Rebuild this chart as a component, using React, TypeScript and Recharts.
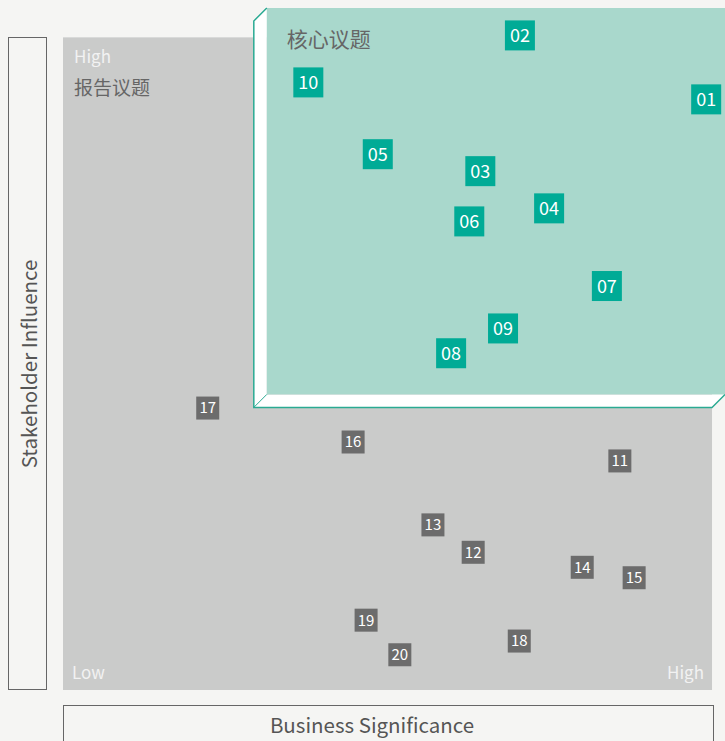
import { ScatterChart, Scatter, XAxis, YAxis, ReferenceArea } from 'recharts'

const FONT = '"Noto Sans CJK SC", "Noto Sans", sans-serif'
const PAGE_BG = '#f5f5f3'
const TEAL = '#00ab96'
const TEAL_LINE = '#2aaa92'
const TEAL_BG = '#a9d8cc'
const GRAY_BG = '#cacbca'
const GRAY_POINT = '#6c6c6c'

// issue numbers and their position on the matrix (0..10 on both scales)
const issueIds = ['01', '02', '03', '04', '05', '06', '07', '08', '09', '10',
  '11', '12', '13', '14', '15', '16', '17', '18', '19', '20']
const significance = [9.91, 7.04, 6.43, 7.49, 4.85, 6.26, 8.38, 5.98, 6.78, 3.78,
  8.58, 6.32, 5.7, 8.0, 8.8, 4.47, 2.23, 7.03, 4.67, 5.19]
const influence = [9.05, 10.03, 7.95, 7.38, 8.21, 7.18, 6.19, 5.16, 5.54, 9.31,
  3.51, 2.11, 2.53, 1.88, 1.72, 3.8, 4.32, 0.75, 1.07, 0.54]

const X_MAX = 10.2
const Y_MAX = 10.45

const points = issueIds.map((id, i) => ({ id, x: significance[i], y: influence[i] }))
const coreIssues = points.slice(0, 10)
const reportIssues = points.slice(10)

const GrayArea = (props: any) => {
  const { x, y, width, height } = props
  return (
    <g>
      <rect x={x} y={y} width={width} height={height} fill={GRAY_BG} />
      <text x={x + 11} y={y + 26} fill="#f2f2f2" fontSize={17} fontFamily={FONT}>High</text>
      <text x={x + 11} y={y + 58} fill="#666" fontSize={19} fontFamily={FONT}>报告议题</text>
      <text x={x + 9} y={y + height - 11} fill="#f2f2f2" fontSize={17} fontFamily={FONT}>Low</text>
      <text x={x + width - 8} y={y + height - 11} fill="#f2f2f2" fontSize={17} fontFamily={FONT} textAnchor="end">High</text>
    </g>
  )
}

const CoreArea = (props: any) => {
  const { x, y, width: w, height: h } = props
  const d = 13
  return (
    <g>
      <polygon
        points={`${x},${y + d} ${x + d},${y} ${x + d},${y + h - d} ${x + w},${y + h - d} ${x + w - d},${y + h} ${x},${y + h}`}
        fill="#fff"
      />
      <rect x={x + d} y={y} width={w - d} height={h - d} fill={TEAL_BG} />
      <polyline
        points={`${x + d},${y} ${x},${y + d} ${x},${y + h} ${x + w - d},${y + h} ${x + w},${y + h - d}`}
        fill="none" stroke={TEAL_LINE} strokeWidth={1.5}
      />
      <line x1={x} y1={y + h} x2={x + d} y2={y + h - d} stroke={TEAL_LINE} strokeWidth={1} />
      <text x={x + 33} y={y + 39} fill="#666" fontSize={21} fontFamily={FONT}>核心议题</text>
    </g>
  )
}

const IssueMark = (size: number, color: string, fontSize: number) => (props: any) => {
  const { cx, cy, payload } = props
  return (
    <g>
      <rect x={cx - size / 2} y={cy - size / 2} width={size} height={size} fill={color} />
      <text x={cx} y={cy + fontSize * 0.36} textAnchor="middle" fill="#fff" fontSize={fontSize} fontFamily={FONT}>
        {payload.id}
      </text>
    </g>
  )
}

export default function App() {
  return (
    <div style={{ position: 'absolute', left: 0, top: 0, width: 725, height: 741, background: PAGE_BG, overflow: 'hidden' }}>
      <div style={{
        position: 'absolute', left: 8, top: 37, width: 37, height: 651,
        border: '1px solid #666', boxSizing: 'content-box',
      }}>
        <div style={{
          position: 'absolute', left: '50%', top: '50%',
          transform: 'translate(-50%, -50%) rotate(-90deg)',
          whiteSpace: 'nowrap', fontFamily: FONT, fontSize: 20.5, color: '#555',
        }}>
          Stakeholder Influence
        </div>
      </div>
      <div style={{
        position: 'absolute', left: 63, top: 705, width: 649, height: 60,
        border: '1px solid #666',
      }}>
        <div style={{
          position: 'absolute', left: 0, width: 616, top: 3, textAlign: 'center',
          fontFamily: FONT, fontSize: 20.5, color: '#555',
        }}>
          Business Significance
        </div>
      </div>
      <div style={{ position: 'absolute', left: 0, top: 0 }}>
        <ScatterChart width={725} height={741} margin={{ top: 8, right: 0, bottom: 51, left: 63 }}>
          <XAxis type="number" dataKey="x" domain={[0, X_MAX]} hide />
          <YAxis type="number" dataKey="y" domain={[0, Y_MAX]} hide />
          <ReferenceArea x1={0} x2={10} y1={0} y2={10} shape={GrayArea} />
          <ReferenceArea x1={2.94} x2={X_MAX} y1={4.33} y2={Y_MAX} shape={CoreArea} />
          <Scatter data={reportIssues} shape={IssueMark(23, GRAY_POINT, 15)} isAnimationActive={false} />
          <Scatter data={coreIssues} shape={IssueMark(30, TEAL, 18)} isAnimationActive={false} />
        </ScatterChart>
      </div>
    </div>
  )
}
